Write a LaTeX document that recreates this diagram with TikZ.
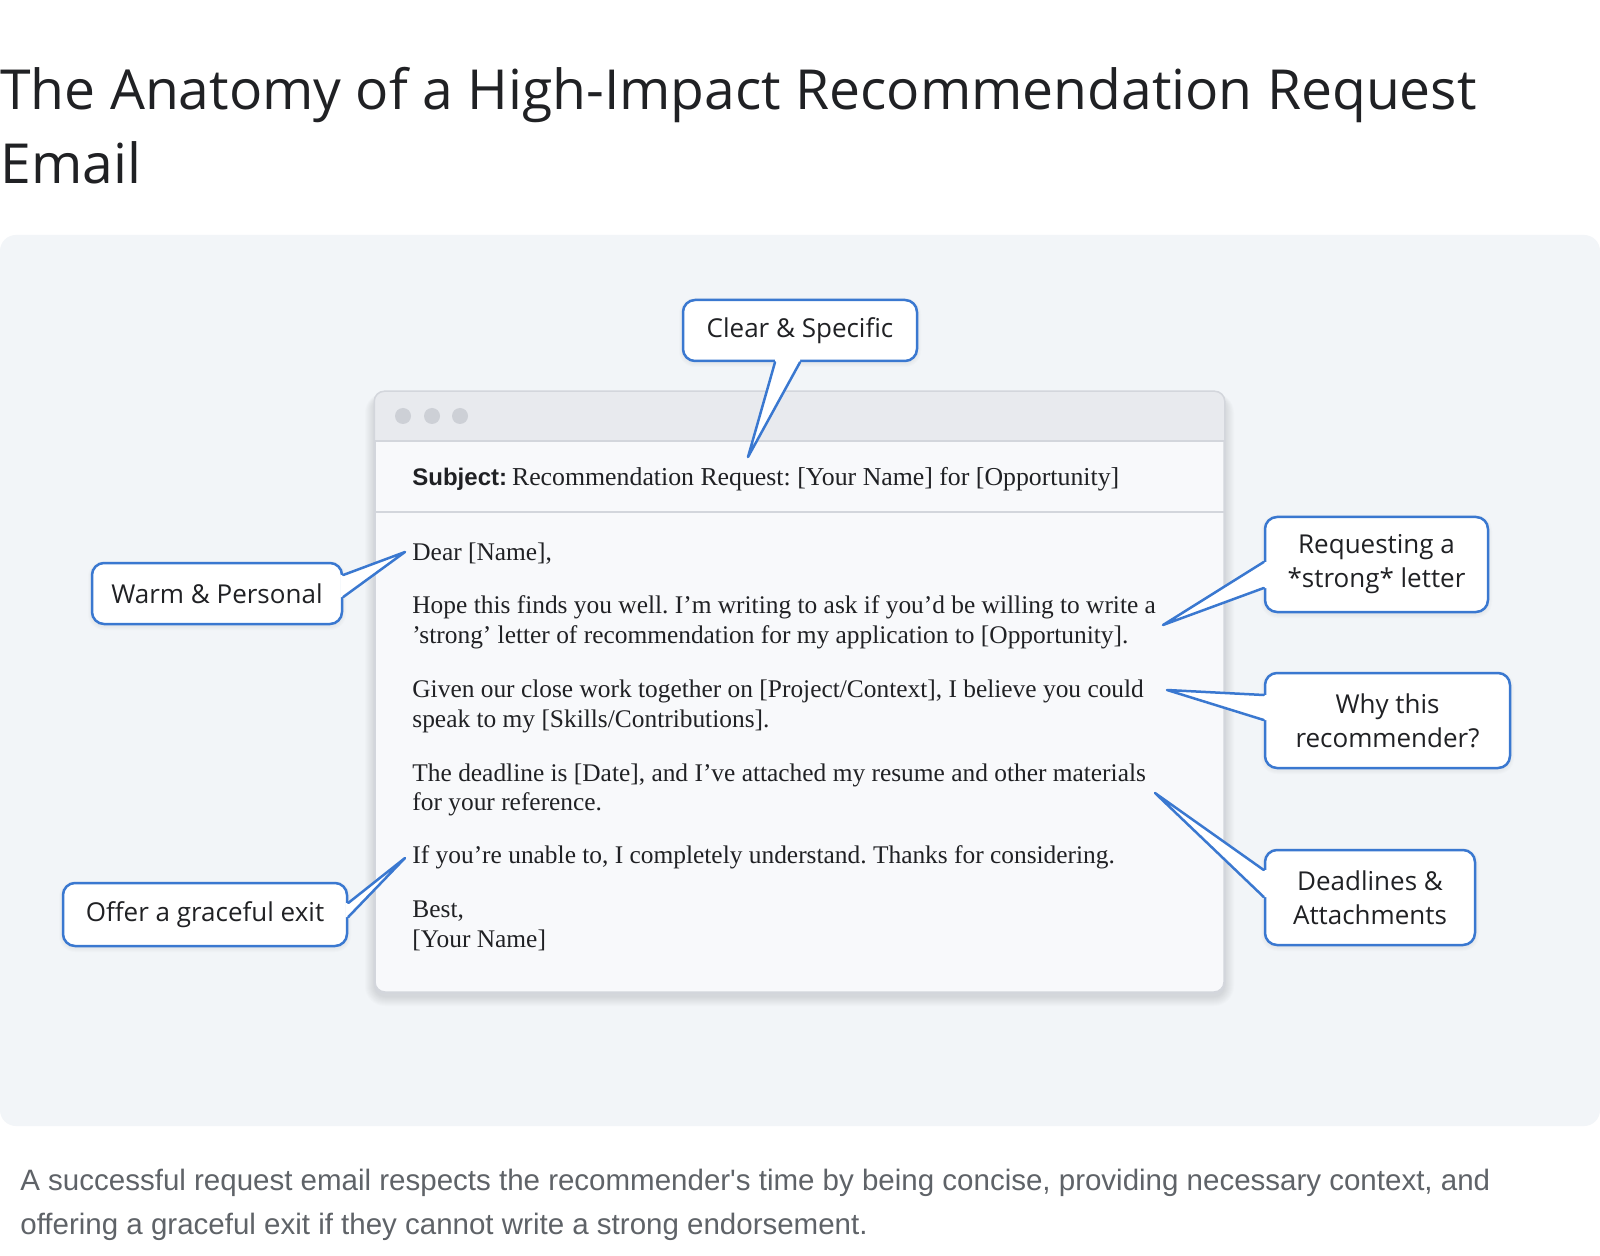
\documentclass[tikz,border=0pt]{standalone}
\usepackage{fontspec}
\setmainfont{Liberation Serif}
\newfontfamily\labelfont{Open Sans}
\newfontfamily\capfont{Liberation Sans}
\definecolor{panelbg}{HTML}{F2F5F8}
\definecolor{winbg}{HTML}{F8F9FB}
\definecolor{barbg}{HTML}{E8EAEE}
\definecolor{winline}{HTML}{D3D6DC}
\definecolor{dotc}{HTML}{CDD0D6}
\definecolor{coblue}{HTML}{3A78D0}
\definecolor{ink}{HTML}{202124}
\definecolor{capgray}{HTML}{5F6368}
\definecolor{shadowc}{HTML}{5A6478}
\newcommand\pxu{0.5pt}
\frenchspacing
\begin{document}
\begin{tikzpicture}[x=0.5pt,y=-0.5pt,
  callout/.style={draw=coblue, line width=1.25pt, fill=white, rounded corners=6pt, inner sep=0pt, align=center,
    font=\labelfont\fontsize{13}{17}\selectfont, text=ink},
  ptr/.style={draw=coblue, line width=1.25pt, line join=round, line cap=round},
  ptrfill/.style={fill=white},
  bodyline/.style={anchor=base west, inner sep=0pt, font=\fontsize{12.7}{14.75}\selectfont, text=ink},
  titleline/.style={anchor=base west, inner sep=0pt, font=\labelfont\fontsize{27.6}{33}\selectfont, text=ink},
  capline/.style={anchor=base west, inner sep=0pt, font=\capfont\fontsize{14.75}{17}\selectfont, text=capgray},
  dot/.style={circle, fill=dotc, minimum size=8pt, inner sep=0pt},
  softshadow/.style={fill=shadowc, fill opacity=0.018, rounded corners=#1},
]
\useasboundingbox (0,0) rectangle (1600,1256);
\fill[white] (0,0) rectangle (1600,1256);

% title
\node[titleline] (title1) at (0,110) {The Anatomy of a High-Impact Recommendation Request};
\node[titleline] (title2) at (0,184) {Email};

% panel
\fill[panelbg, rounded corners=8pt] (0,235) rectangle (1600,1126);

% window shadow
\foreach \s in {1,...,10} {
  \fill[softshadow={5pt+\s*0.5pt}] (375-\s,392+5-\s*0.4) rectangle (1224+\s,992+4+\s);
}
% callout glow
\foreach \s in {1,...,4} {
  \fill[softshadow={6pt+\s*0.5pt}] (683-\s,300+2-\s) rectangle (917+\s,361+2+\s);
  \fill[softshadow={6pt+\s*0.5pt}] (92-\s,563+2-\s) rectangle (342+\s,624+2+\s);
  \fill[softshadow={6pt+\s*0.5pt}] (1265-\s,517+2-\s) rectangle (1488+\s,612+2+\s);
  \fill[softshadow={6pt+\s*0.5pt}] (1265-\s,673+2-\s) rectangle (1510+\s,768+2+\s);
  \fill[softshadow={6pt+\s*0.5pt}] (1265-\s,850+2-\s) rectangle (1475+\s,945+2+\s);
  \fill[softshadow={6pt+\s*0.5pt}] (63-\s,883+2-\s) rectangle (347+\s,946+2+\s);
}

% window
\node[draw=winline, line width=0.75pt, fill=winbg, rounded corners=5pt, minimum width=849*\pxu, minimum height=600*\pxu, inner sep=0pt] (win) at (799.5,692) {};
\begin{scope}
\clip[rounded corners=5pt] (win.north west) rectangle (win.south east);
\fill[barbg] (win.north west) rectangle (win.east |- 0,441);
\end{scope}
\draw[winline, line width=0.75pt] (win.west |- 0,441) -- (win.east |- 0,441);
\draw[winline, line width=0.75pt] (win.west |- 0,512) -- (win.east |- 0,512);
\draw[winline, line width=0.75pt, rounded corners=5pt] (win.north west) rectangle (win.south east);
\node[dot] (dot1) at (403,416) {};
\node[dot] (dot2) at (432,416) {};
\node[dot] (dot3) at (460,416) {};

% email text
\node[anchor=base west, inner sep=0pt, text=ink] (subj) at (412,486)
  {{\capfont\bfseries\fontsize{12}{14}\selectfont Subject:} {\fontsize{12.9}{15}\selectfont Recommendation Request: [Your Name] for [Opportunity]}};
\node[bodyline] (l1) at (412,560) {Dear [Name],};
\node[bodyline] (l2) at (412,613) {Hope this finds you well. I'm writing to ask if you'd be willing to write a};
\node[bodyline] (l3) at (412,643) {'strong' letter of recommendation for my application to [Opportunity].};
\node[bodyline] (l4) at (412,697) {Given our close work together on [Project/Context], I believe you could};
\node[bodyline] (l5) at (412,727) {speak to my [Skills/Contributions].};
\node[bodyline] (l6) at (412,781) {The deadline is [Date], and I've attached my resume and other materials};
\node[bodyline] (l7) at (412,810) {for your reference.};
\node[bodyline] (l8) at (412,863) {If you're unable to, I completely understand. Thanks for considering.};
\node[bodyline] (l9) at (412,917) {Best,};
\node[bodyline] (l10) at (412,947) {[Your Name]};

% callouts
\node[callout, minimum width=234*\pxu, minimum height=61*\pxu] (clear) at (800,330.5) {Clear \& Specific};
\node[callout, minimum width=250*\pxu, minimum height=61*\pxu] (warm) at (217,593.5) {Warm \& Personal};
\node[callout, minimum width=223*\pxu, minimum height=95*\pxu] (strong) at (1376.5,564.5) {Requesting a\\\relax*strong* letter};
\node[callout, minimum width=245*\pxu, minimum height=95*\pxu] (why) at (1387.5,720.5) {Why this\\recommender?};
\node[callout, minimum width=210*\pxu, minimum height=95*\pxu] (dead) at (1370,897.5) {Deadlines \&\\Attachments};
\node[callout, minimum width=284*\pxu, minimum height=63*\pxu] (exit) at (205,914.5) {Offer a graceful exit};

% pointer tips
\coordinate (tclear) at (748,457);
\coordinate (twarm) at (405,552);
\coordinate (tstrong) at (1163,625);
\coordinate (twhy) at (1167,690);
\coordinate (tdead) at (1155,793);
\coordinate (texit) at (405,858);

% pointer bases
\coordinate (c1) at (clear.south -| 775,0);
\coordinate (c2) at (clear.south -| 800,0);
\coordinate (w1) at (warm.east |- 0,575);
\coordinate (w2) at (warm.east |- 0,597);
\coordinate (s1) at (strong.west |- 0,562);
\coordinate (s2) at (strong.west |- 0,588);
\coordinate (y1) at (why.west |- 0,695);
\coordinate (y2) at (why.west |- 0,720);
\coordinate (d1) at (dead.west |- 0,870);
\coordinate (d2) at (dead.west |- 0,897);
\coordinate (e1) at (exit.east |- 0,903);
\coordinate (e2) at (exit.east |- 0,917);

% pointers
\fill[ptrfill] ([yshift=1.5pt]c1) -- (c1) -- (tclear) -- (c2) -- ([yshift=1.5pt]c2) -- cycle;
\draw[ptr] (c1) -- (tclear) -- (c2);
\fill[ptrfill] ([xshift=-1.5pt]w1) -- (w1) -- (twarm) -- (w2) -- ([xshift=-1.5pt]w2) -- cycle;
\draw[ptr] (w1) -- (twarm) -- (w2);
\fill[ptrfill] ([xshift=1.5pt]s1) -- (s1) -- (tstrong) -- (s2) -- ([xshift=1.5pt]s2) -- cycle;
\draw[ptr] (s1) -- (tstrong) -- (s2);
\fill[ptrfill] ([xshift=1.5pt]y1) -- (y1) -- (twhy) -- (y2) -- ([xshift=1.5pt]y2) -- cycle;
\draw[ptr] (y1) -- (twhy) -- (y2);
\fill[ptrfill] ([xshift=1.5pt]d1) -- (d1) -- (tdead) -- (d2) -- ([xshift=1.5pt]d2) -- cycle;
\draw[ptr] (d1) -- (tdead) -- (d2);
\fill[ptrfill] ([xshift=-1.5pt]e1) -- (e1) -- (texit) -- (e2) -- ([xshift=-1.5pt]e2) -- cycle;
\draw[ptr] (e1) -- (texit) -- (e2);

% caption
\node[capline] (cap1) at (20,1190) {A successful request email respects the recommender's time by being concise, providing necessary context, and};
\node[capline] (cap2) at (20,1234) {offering a graceful exit if they cannot write a strong endorsement.};
\end{tikzpicture}
\end{document}
